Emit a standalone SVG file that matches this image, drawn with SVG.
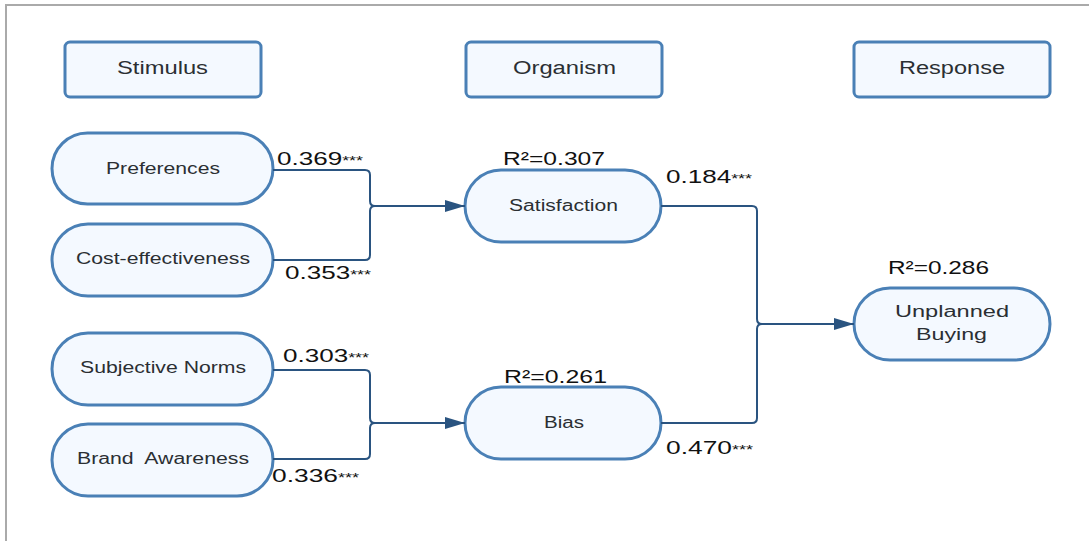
<svg xmlns="http://www.w3.org/2000/svg" width="1089" height="541" viewBox="0 0 1089 541">
  <defs>
    <marker id="arrow" viewBox="0 0 20 12" refX="20" refY="6" markerWidth="20" markerHeight="12" markerUnits="userSpaceOnUse" orient="auto">
      <path d="M0,0 L20,6 L0,12 Z" fill="#2a5480"/>
    </marker>
    <style>
      .hdr { fill: #f4f9ff; stroke: #4a80b6; stroke-width: 3; }
      .pill { fill: #f4f9ff; stroke: #4a80b6; stroke-width: 3; }
      .lbl { font-family: "Liberation Sans", Arial, sans-serif; font-size: 16px; fill: #2b2f33; }
      .big { font-size: 18px; }
      .coef { font-family: "Liberation Sans", Arial, sans-serif; font-size: 19px; fill: #111; }
      .star { font-size: 13px; }
      .edge { fill: none; stroke: #2a5480; stroke-width: 2; }
      .frame { stroke: #aaaaaa; stroke-width: 2; fill: none; }
    </style>
  </defs>

  <rect width="1089" height="541" fill="#ffffff"/>
  <!-- page frame -->
  <path class="frame" d="M6,541 V5 H1089"/>

  <!-- column headers -->
  <g id="stimulus">
    <rect class="hdr" x="65" y="42" width="196" height="55" rx="5"/>
    <text class="lbl big" x="117" y="74" textLength="91" lengthAdjust="spacingAndGlyphs">Stimulus</text>
  </g>
  <g id="organism">
    <rect class="hdr" x="466" y="42" width="196" height="55" rx="5"/>
    <text class="lbl big" x="513" y="74" textLength="103" lengthAdjust="spacingAndGlyphs">Organism</text>
  </g>
  <g id="response">
    <rect class="hdr" x="854" y="42" width="196" height="55" rx="5"/>
    <text class="lbl big" x="899" y="74" textLength="106" lengthAdjust="spacingAndGlyphs">Response</text>
  </g>

  <!-- stimulus constructs -->
  <g id="preferences">
    <rect class="pill" x="52" y="133" width="221" height="71" rx="35.5"/>
    <text class="lbl" x="106" y="174" textLength="114" lengthAdjust="spacingAndGlyphs">Preferences</text>
  </g>
  <g id="cost-effectiveness">
    <rect class="pill" x="52" y="224" width="221" height="72" rx="36"/>
    <text class="lbl" x="76" y="264" textLength="174" lengthAdjust="spacingAndGlyphs">Cost-effectiveness</text>
  </g>
  <g id="subjective-norms">
    <rect class="pill" x="52" y="333" width="221" height="72" rx="36"/>
    <text class="lbl" x="80" y="373" textLength="166" lengthAdjust="spacingAndGlyphs">Subjective Norms</text>
  </g>
  <g id="brand-awareness">
    <rect class="pill" x="52" y="424" width="221" height="72" rx="36"/>
    <text class="lbl" x="77" y="464" textLength="172" lengthAdjust="spacingAndGlyphs" xml:space="preserve">Brand  Awareness</text>
  </g>

  <!-- organism constructs -->
  <g id="satisfaction">
    <rect class="pill" x="465" y="170" width="196" height="72" rx="36"/>
    <text class="lbl" x="509" y="211" textLength="109" lengthAdjust="spacingAndGlyphs">Satisfaction</text>
    <text class="coef" x="503" y="165" textLength="102" lengthAdjust="spacingAndGlyphs">R²=0.307</text>
  </g>
  <g id="bias">
    <rect class="pill" x="465" y="387" width="196" height="72" rx="36"/>
    <text class="lbl" x="544" y="428" textLength="40" lengthAdjust="spacingAndGlyphs">Bias</text>
    <text class="coef" x="504" y="383" textLength="103" lengthAdjust="spacingAndGlyphs">R²=0.261</text>
  </g>

  <!-- response construct -->
  <g id="unplanned-buying">
    <rect class="pill" x="854" y="288" width="196" height="72" rx="36"/>
    <text class="lbl" x="895" y="317" textLength="114" lengthAdjust="spacingAndGlyphs">Unplanned</text>
    <text class="lbl" x="916" y="340" textLength="71" lengthAdjust="spacingAndGlyphs">Buying</text>
    <text class="coef" x="888" y="274" textLength="101" lengthAdjust="spacingAndGlyphs">R²=0.286</text>
  </g>

  <!-- connectors -->
  <g id="connectors">
    <path class="edge" d="M273,170 H365 Q370,170 370,175 V201 Q370,206 375,206"/>
    <path class="edge" d="M273,260 H365 Q370,260 370,255 V211 Q370,206 375,206"/>
    <path class="edge" d="M375,206 H465" marker-end="url(#arrow)"/>

    <path class="edge" d="M273,370 H365 Q370,370 370,375 V418 Q370,423 375,423"/>
    <path class="edge" d="M273,459 H365 Q370,459 370,454 V428 Q370,423 375,423"/>
    <path class="edge" d="M375,423 H465" marker-end="url(#arrow)"/>

    <path class="edge" d="M661,206 H752 Q757,206 757,211 V319 Q757,324 762,324"/>
    <path class="edge" d="M661,423 H752 Q757,423 757,418 V329 Q757,324 762,324"/>
    <path class="edge" d="M762,324 H854" marker-end="url(#arrow)"/>

    <text class="coef" x="277" y="165" textLength="86" lengthAdjust="spacingAndGlyphs">0.369<tspan class="star">***</tspan></text>
    <text class="coef" x="285" y="279" textLength="86" lengthAdjust="spacingAndGlyphs">0.353<tspan class="star">***</tspan></text>
    <text class="coef" x="283" y="362" textLength="86" lengthAdjust="spacingAndGlyphs">0.303<tspan class="star">***</tspan></text>
    <text class="coef" x="272" y="482" textLength="87" lengthAdjust="spacingAndGlyphs">0.336<tspan class="star">***</tspan></text>
    <text class="coef" x="666" y="183" textLength="86" lengthAdjust="spacingAndGlyphs">0.184<tspan class="star">***</tspan></text>
    <text class="coef" x="666" y="454" textLength="87" lengthAdjust="spacingAndGlyphs">0.470<tspan class="star">***</tspan></text>
  </g>
</svg>
